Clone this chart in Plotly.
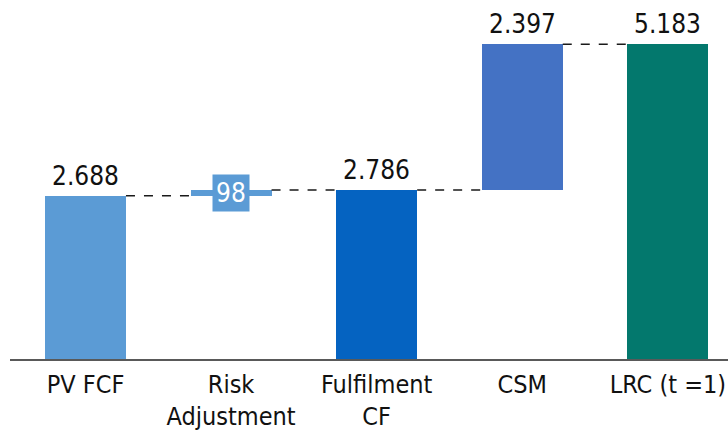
import plotly.graph_objects as go

# Waterfall components
categories = ["PV FCF", "Risk<br>Adjustment", "Fulfilment<br>CF", "CSM", "LRC (t =1)"]
values = [2688, 98, 2786, 2397, 5183]
is_total = [False, False, True, False, True]
bar_colors = ["#5B9BD5", "#5B9BD5", "#0563C1", "#4472C4", "#03786D"]

# Bases: running sum for increments, zero for totals
bases = []
running = 0
for v, tot in zip(values, is_total):
    if tot:
        bases.append(0)
        running = v
    else:
        bases.append(running)
        running += v
tops = [b + v for b, v in zip(bases, values)]

FONT = "Liberation Sans Narrow, DejaVu Sans Condensed, Arial Narrow, sans-serif"
BAR_W = 0.556
x = list(range(len(categories)))

def fmt(v):
    return f"{v:,}".replace(",", ".")

fig = go.Figure(go.Bar(
    x=x, y=values, base=bases, width=BAR_W,
    marker=dict(color=bar_colors, line=dict(width=0)),
    hoverinfo="skip",
))

# Dashed connectors between consecutive bars
shapes = []
for i in range(len(values) - 1):
    shapes.append(dict(
        type="line", xref="x", yref="y",
        x0=i + BAR_W / 2, x1=i + 1 - BAR_W / 2, y0=tops[i], y1=tops[i],
        line=dict(color="#1a1a1a", width=1.5, dash="dash"),
    ))

# Value labels
annotations = []
for i, (b, v, tot) in enumerate(zip(bases, values, is_total)):
    if i == 1:
        annotations.append(dict(
            x=i, y=b + v / 2, xref="x", yref="y", text=fmt(v), showarrow=False,
            font=dict(family=FONT, size=26, color="white"),
            bgcolor="#5B9BD5", borderpad=3, xanchor="center", yanchor="middle",
        ))
    else:
        annotations.append(dict(
            x=i, y=b + v, xref="x", yref="y", text=fmt(v), showarrow=False,
            font=dict(family=FONT, size=26, color="#111111"),
            xanchor="center", yanchor="bottom", yshift=3,
        ))

fig.update_layout(
    width=728, height=430,
    margin=dict(l=10, r=0, t=0, b=71),
    paper_bgcolor="white", plot_bgcolor="white",
    showlegend=False,
    shapes=shapes, annotations=annotations,
    bargap=0,
    xaxis=dict(
        range=[-0.5185, 4.413],
        tickmode="array", tickvals=x, ticktext=categories,
        tickfont=dict(family=FONT, size=25, color="#111111"),
        ticklabelstandoff=2,
        showline=True, linecolor="#595959", linewidth=1.5,
        showgrid=False, zeroline=False, ticks="",
        fixedrange=True,
    ),
    yaxis=dict(
        range=[0, 5914], visible=False, showgrid=False, zeroline=False,
        fixedrange=True,
    ),
)

fig.write_html("out.html")
